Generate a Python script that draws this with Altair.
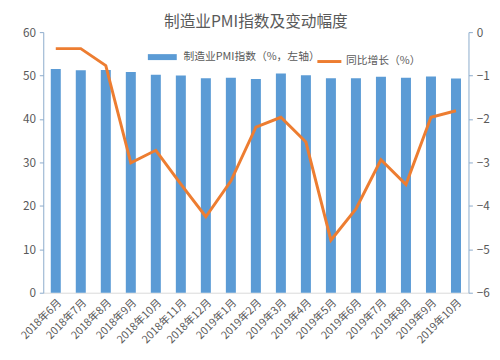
import altair as alt
import pandas as pd

months = ["2018年6月", "2018年7月", "2018年8月", "2018年9月", "2018年10月", "2018年11月",
          "2018年12月", "2019年1月", "2019年2月", "2019年3月", "2019年4月", "2019年5月",
          "2019年6月", "2019年7月", "2019年8月", "2019年9月", "2019年10月"]
pmi = [51.5, 51.2, 51.3, 50.8, 50.2, 50.0, 49.4, 49.5, 49.2, 50.5, 50.1, 49.4, 49.4, 49.7, 49.5, 49.8, 49.3]
yoy = [-0.38, -0.38, -0.77, -3.01, -2.72, -3.5, -4.25, -3.43, -2.19, -1.96, -2.53, -4.79, -4.07, -2.94, -3.51, -1.96, -1.81]

bar_name = "制造业PMI指数（%，左轴）"
line_name = "同比增长（%）"

df = pd.DataFrame({"month": months, "pmi": pmi, "yoy": yoy,
                   "s1": [bar_name] * len(months), "s2": [line_name] * len(months)})

FONT = "Noto Sans CJK SC"
AXIS_COLOR = "#8AAACB"
TXT = "#595959"

x = alt.X("month:N", sort=months, title=None,
          scale=alt.Scale(paddingInner=0.6, paddingOuter=0.3),
          axis=alt.Axis(labelAngle=-45, labelColor=TXT, labelFontSize=11, labelFont=FONT,
                        ticks=False, domainColor="#D9D9D9", labelPadding=4))

bars = alt.Chart(df).mark_bar(color="#5B9BD5").encode(
    x=x,
    y=alt.Y("pmi:Q", title=None, scale=alt.Scale(domain=[0, 60]),
            axis=alt.Axis(values=[0, 10, 20, 30, 40, 50, 60], grid=False, labelColor=TXT,
                          labelFontSize=12, domainColor=AXIS_COLOR, tickColor=AXIS_COLOR,
                          tickSize=4, labelPadding=4)),
    color=alt.Color("s1:N", title=None,
                    scale=alt.Scale(domain=[bar_name], range=["#5B9BD5"]),
                    legend=alt.Legend(orient="none", legendX=112, legendY=16,
                                      symbolType="M-1.6,-0.33H1.6V0.33H-1.6Z", symbolSize=340,
                                      labelFont=FONT, labelFontSize=11, labelColor=TXT,
                                      symbolStrokeWidth=0, labelOffset=12)),
)

line = alt.Chart(df).mark_line(color="#ED7D31", strokeWidth=3).encode(
    x=x,
    y=alt.Y("yoy:Q", title=None, scale=alt.Scale(domain=[-6, 0]),
            axis=alt.Axis(orient="right", values=[-6, -5, -4, -3, -2, -1, 0], grid=False,
                          labelColor=TXT, labelFontSize=12, domainColor=AXIS_COLOR,
                          tickColor=AXIS_COLOR, tickSize=4, labelPadding=4)),
    stroke=alt.Stroke("s2:N", title=None,
                      scale=alt.Scale(domain=[line_name], range=["#ED7D31"]),
                      legend=alt.Legend(orient="none", legendX=278, legendY=16,
                                        symbolType="stroke", symbolStrokeWidth=3, symbolSize=600,
                                        labelFont=FONT, labelFontSize=11, labelColor=TXT,
                                        labelOffset=3)),
)

chart = alt.layer(bars, line).resolve_scale(y="independent", color="independent").properties(
    width=434, height=266,
    title=alt.TitleParams("制造业PMI指数及变动幅度", font=FONT, fontSize=16, color=TXT,
                          fontWeight="normal", offset=4, dy=8, anchor="middle"),
    autosize=alt.AutoSizeParams(type="none"),
    padding={"left": 36, "top": 21, "right": 24, "bottom": 64},
).configure_view(stroke=None).configure_axis(labelFont=FONT)

chart.save("out.html", embed_options={"renderer": "svg", "actions": False})
